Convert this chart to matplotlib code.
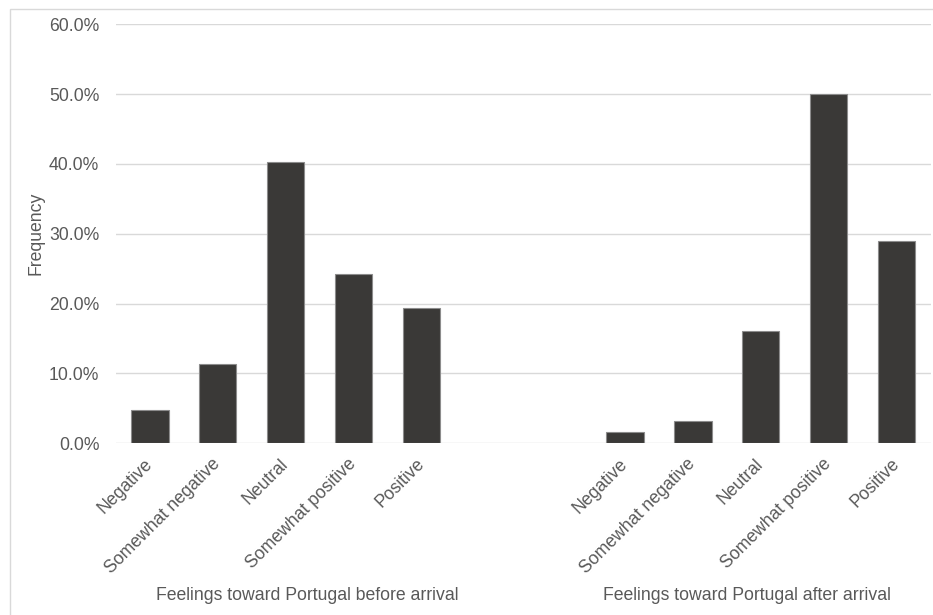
import matplotlib
matplotlib.use("Agg")
import matplotlib.pyplot as plt
from matplotlib.patches import Rectangle
from matplotlib.ticker import PercentFormatter

plt.rcParams['font.family'] = ['Liberation Sans', 'DejaVu Sans']

categories = ["Negative", "Somewhat negative", "Neutral", "Somewhat positive", "Positive"]
before_arrival = [4.84, 11.29, 40.32, 24.19, 19.35]
after_arrival = [1.61, 3.23, 16.13, 50.0, 29.03]
group_labels = ["Feelings toward Portugal before arrival", "Feelings toward Portugal after arrival"]
y_label = "Frequency"

TEXT = "#595959"
GRID = "#d9d9d9"
BAR = "#3a3937"

fig = plt.figure(figsize=(9.33, 6.15), dpi=100)
ax_w = (930.5 - 116) / 933
ax = fig.add_axes([116 / 933, 171.7 / 615, ax_w, (443.3 - 24.3) / 615])

# two groups of five bars, separated by two empty slots
n = len(categories)
gap = 2
x_before = list(range(n))
x_after = [n + gap + i for i in range(n)]
ax.bar(x_before, before_arrival, width=0.55, color=BAR, edgecolor="#8c8c8c", linewidth=0.8, zorder=3)
ax.bar(x_after, after_arrival, width=0.55, color=BAR, edgecolor="#8c8c8c", linewidth=0.8, zorder=3)

ax.set_xlim(-0.5, 2 * n + gap - 0.5)
ax.set_ylim(0, 60)
ax.set_yticks(range(0, 61, 10))
ax.yaxis.set_major_formatter(PercentFormatter(decimals=1))
ax.grid(axis="y", color=GRID, linewidth=1.0, zorder=0)
for s in ax.spines.values():
    s.set_visible(False)
ax.tick_params(axis="both", length=0, labelsize=12.7, labelcolor=TEXT)
ax.tick_params(axis="y", pad=12)

ax.set_xticks(x_before + x_after)
ax.set_xticklabels(categories + categories, rotation=45, ha="right", va="center",
                   rotation_mode="anchor")
ax.tick_params(axis="x", pad=13)

ax.set_ylabel(y_label, fontsize=12.7, color=TEXT)
ax.yaxis.set_label_coords(-(116 - 36) / (930.5 - 116), 0.5)
ax.yaxis.label.set_va("center")

fig.text(307.5 / 933, 1 - 596 / 615, group_labels[0], ha="center", va="center",
         fontsize=12.7, color=TEXT)
fig.text(746.7 / 933, 1 - 596 / 615, group_labels[1], ha="center", va="center",
         fontsize=12.7, color=TEXT)

# light frame around the chart area
fig.patches.append(Rectangle((9.5 / 933, -0.05), 1.0, 1 - 8.5 / 615 + 0.05,
                             transform=fig.transFigure, fill=False,
                             edgecolor=GRID, linewidth=1.0))

fig.savefig("out.png", dpi=100, facecolor="white")
